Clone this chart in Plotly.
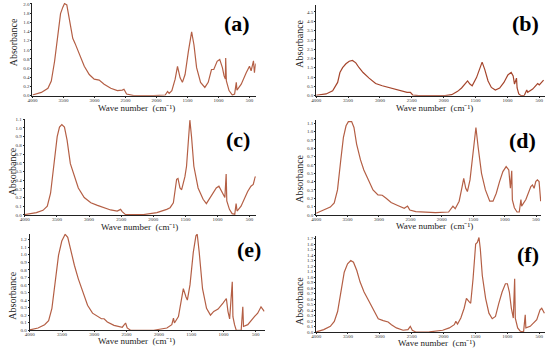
import plotly.graph_objects as go

# ---------------- data ----------------
wn_a = [4000, 3856, 3750, 3696, 3643, 3590, 3547, 3510, 3483, 3446, 3403, 3350, 3313, 3244, 3164, 3084, 3004, 2924, 2844, 2737, 2631, 2551, 2524, 2482, 2365, 2045, 1859, 1821, 1795, 1752, 1699, 1661, 1619, 1582, 1539, 1486, 1433, 1396, 1353, 1289, 1220, 1166, 1113, 1076, 1022, 980, 937, 910, 889, 884, 873, 830, 777, 740, 713, 702, 633, 553, 500, 474, 436, 420, 400]
ab_a = [0.014, 0.07, 0.16, 0.32, 0.75, 1.32, 1.79, 1.93, 2.01, 1.98, 1.68, 1.25, 1.14, 0.89, 0.64, 0.46, 0.36, 0.34, 0.25, 0.16, 0.11, 0.12, 0.14, 0.036, 0.0, 0.0, 0.014, 0.09, 0.05, 0.11, 0.36, 0.64, 0.39, 0.29, 0.46, 0.96, 1.39, 1.11, 0.61, 0.29, 0.18, 0.29, 0.57, 0.57, 0.75, 0.79, 0.61, 0.43, 0.36, 0.82, 0.32, 0.11, 0.014, 0.036, 0.29, 0.12, 0.25, 0.5, 0.64, 0.54, 0.76, 0.5, 0.7]

wn_b = [4000, 3844, 3741, 3663, 3627, 3585, 3533, 3481, 3430, 3378, 3326, 3264, 3170, 3067, 2963, 2833, 2704, 2574, 2522, 2486, 2393, 1978, 1874, 1781, 1719, 1667, 1625, 1589, 1553, 1485, 1433, 1397, 1356, 1304, 1252, 1190, 1122, 1055, 993, 941, 910, 889, 858, 848, 822, 786, 734, 697, 682, 604, 526, 500, 433]
ab_b = [0.02, 0.09, 0.26, 0.71, 1.24, 1.5, 1.71, 1.85, 1.89, 1.76, 1.5, 1.24, 0.94, 0.65, 0.53, 0.41, 0.3, 0.18, 0.18, 0.035, 0.0, 0.0, 0.05, 0.23, 0.41, 0.65, 0.79, 0.62, 0.53, 0.97, 1.5, 1.8, 1.41, 0.79, 0.44, 0.3, 0.41, 0.71, 1.11, 1.25, 1.06, 0.62, 0.94, 0.41, 0.09, 0.0, 0.02, 0.3, 0.18, 0.35, 0.65, 0.58, 0.83]

wn_c = [4000, 3820, 3717, 3650, 3599, 3548, 3496, 3460, 3424, 3383, 3342, 3291, 3229, 3167, 3075, 2972, 2869, 2766, 2664, 2561, 2509, 2484, 2432, 2150, 1944, 1790, 1738, 1687, 1636, 1615, 1584, 1558, 1507, 1482, 1451, 1430, 1404, 1368, 1302, 1224, 1173, 1096, 1060, 1019, 978, 926, 885, 865, 855, 814, 772, 731, 710, 695, 633, 530, 479, 443, 412, 400]
ab_c = [0.004, 0.027, 0.053, 0.10, 0.25, 0.56, 0.90, 1.01, 1.04, 1.01, 0.86, 0.59, 0.44, 0.31, 0.20, 0.14, 0.11, 0.083, 0.057, 0.045, 0.064, 0.038, 0.004, 0.004, 0.027, 0.064, 0.083, 0.14, 0.41, 0.42, 0.31, 0.29, 0.44, 0.56, 0.90, 1.09, 0.90, 0.56, 0.31, 0.18, 0.13, 0.22, 0.25, 0.31, 0.33, 0.26, 0.20, 0.47, 0.16, 0.064, 0.015, 0.008, 0.13, 0.045, 0.10, 0.27, 0.33, 0.35, 0.44, 0.43]

wn_d = [4000, 3880, 3775, 3712, 3660, 3608, 3566, 3524, 3487, 3435, 3398, 3356, 3294, 3241, 3173, 3095, 3016, 2948, 2886, 2807, 2702, 2598, 2545, 2509, 2415, 2101, 1892, 1839, 1823, 1787, 1724, 1682, 1651, 1619, 1593, 1551, 1499, 1457, 1421, 1368, 1306, 1237, 1185, 1133, 1081, 1028, 976, 934, 908, 887, 877, 845, 803, 767, 741, 730, 662, 583, 557, 531, 505, 479, 452, 426]
ab_d = [0.02, 0.055, 0.094, 0.145, 0.30, 0.66, 0.93, 1.07, 1.12, 1.12, 1.05, 0.85, 0.66, 0.54, 0.42, 0.30, 0.24, 0.236, 0.20, 0.15, 0.114, 0.079, 0.106, 0.059, 0.04, 0.028, 0.035, 0.086, 0.106, 0.075, 0.165, 0.32, 0.44, 0.32, 0.28, 0.42, 0.77, 1.05, 0.81, 0.50, 0.30, 0.165, 0.165, 0.26, 0.40, 0.52, 0.58, 0.54, 0.32, 0.53, 0.18, 0.086, 0.035, 0.035, 0.185, 0.106, 0.185, 0.34, 0.36, 0.32, 0.40, 0.42, 0.40, 0.165]

wn_e = [4000, 3872, 3770, 3708, 3657, 3606, 3555, 3504, 3452, 3412, 3360, 3309, 3248, 3181, 3105, 3028, 2951, 2890, 2849, 2798, 2695, 2567, 2516, 2491, 2439, 2081, 1876, 1800, 1774, 1759, 1697, 1646, 1621, 1580, 1559, 1518, 1467, 1426, 1406, 1375, 1324, 1262, 1201, 1150, 1083, 1007, 955, 930, 904, 863, 853, 828, 802, 725, 700, 689, 623, 520, 469, 418, 392, 367]
ab_e = [0.004, 0.03, 0.074, 0.126, 0.29, 0.64, 0.99, 1.18, 1.27, 1.23, 1.03, 0.86, 0.68, 0.51, 0.33, 0.226, 0.183, 0.152, 0.152, 0.11, 0.065, 0.04, 0.096, 0.03, 0.0, 0.0, 0.03, 0.074, 0.16, 0.096, 0.18, 0.42, 0.55, 0.44, 0.40, 0.6, 1.03, 1.25, 1.27, 1.03, 0.55, 0.29, 0.2, 0.25, 0.28, 0.36, 0.42, 0.25, 0.15, 0.64, 0.18, 0.074, 0.0, 0.0, 0.31, 0.05, 0.074, 0.18, 0.226, 0.31, 0.27, 0.25]

wn_f = [4000, 3881, 3777, 3715, 3663, 3611, 3559, 3507, 3456, 3414, 3362, 3310, 3248, 3181, 3103, 3025, 2947, 2870, 2818, 2740, 2636, 2559, 2522, 2491, 2429, 2222, 2014, 1910, 1832, 1807, 1781, 1729, 1677, 1641, 1600, 1574, 1537, 1496, 1470, 1444, 1423, 1392, 1340, 1288, 1236, 1185, 1133, 1081, 1029, 998, 967, 936, 905, 884, 874, 837, 796, 744, 718, 708, 640, 537, 485, 459, 417]
ab_f = [0.006, 0.048, 0.107, 0.197, 0.376, 0.73, 1.09, 1.24, 1.30, 1.27, 1.12, 0.91, 0.73, 0.585, 0.41, 0.245, 0.21, 0.185, 0.137, 0.078, 0.036, 0.048, 0.107, 0.036, 0.0, 0.006, 0.036, 0.078, 0.137, 0.197, 0.15, 0.257, 0.435, 0.615, 0.555, 0.525, 0.97, 1.6, 1.63, 1.72, 1.51, 1.03, 0.615, 0.346, 0.245, 0.286, 0.525, 0.73, 0.88, 0.88, 0.73, 0.435, 0.257, 0.97, 0.257, 0.078, 0.018, 0.006, 0.316, 0.078, 0.107, 0.227, 0.405, 0.435, 0.346]

x_ticks = [4000, 3500, 3000, 2500, 2000, 1500, 1000, 500]
labels = ["(a)", "(b)", "(c)", "(d)", "(e)", "(f)"]
x_title = "Wave number  (cm\u207b\u00b9)"
y_title = "Absorbance"
line_colors = ["#b45f45", "#a5452c", "#b45f45", "#b45f45", "#b45f45", "#b45f45"]

# ---------------- layout (pixel geometry) ----------------
W, H = 550, 351
SERIF = "Liberation Serif, Times New Roman, serif"

panels = [
    dict(x=wn_a, y=ab_a, xl=27.7, xr=253, yb=95, yt=0.6, xend=400, ytop=2.03, dt=0.2,
         lab=(234, 22), xt=(133, 107.5), yt_=(8, 41)),
    dict(x=wn_b, y=ab_b, xl=314, xr=545, yb=95, yt=3, xend=410, ytop=4.87, dt=0.5,
         lab=(525, 22), xt=(433, 107.5), yt_=(297, 42)),
    dict(x=wn_c, y=ab_c, xl=20, xr=253, yb=216, yt=119, xend=405, ytop=1.10, dt=0.1,
         lab=(235, 139), xt=(136, 228), yt_=(8, 172)),
    dict(x=wn_d, y=ab_d, xl=314, xr=541, yb=216, yt=120, xend=420, ytop=1.136, dt=0.1,
         lab=(522, 140), xt=(433, 227.5), yt_=(297, 179)),
    dict(x=wn_e, y=ab_e, xl=25, xr=262, yb=333, yt=235, xend=362, ytop=1.278, dt=0.1,
         lab=(246, 251), xt=(133, 344), yt_=(8, 298)),
    dict(x=wn_f, y=ab_f, xl=314, xr=545, yb=335, yt=237, xend=407, ytop=1.753, dt=0.1,
         lab=(528, 256), xt=(435, 346), yt_=(297, 303)),
]

fig = go.Figure()
annotations = []

for i, p in enumerate(panels):
    n = "" if i == 0 else str(i + 1)
    fig.add_trace(go.Scatter(x=p["x"], y=p["y"], mode="lines",
                             line=dict(color=line_colors[i], width=1.2),
                             xaxis="x" + n, yaxis="y" + n,
                             showlegend=False, hoverinfo="skip"))
    nt = int(round(p["ytop"] // p["dt"])) + 1
    yvals = [round(k * p["dt"], 2) for k in range(nt)]
    fig.layout["xaxis" + n] = dict(
        domain=[p["xl"] / W, p["xr"] / W], range=[4000, p["xend"]],
        anchor="y" + n, tickvals=x_ticks, ticktext=[str(v) for v in x_ticks],
        showline=True, linecolor="#222", linewidth=1.3, ticks="outside",
        ticklen=1, tickcolor="#222", showgrid=False, zeroline=False,
        ticklabelstandoff=-2,
        tickfont=dict(family=SERIF, size=5, color="#333"), fixedrange=True)
    fig.layout["yaxis" + n] = dict(
        domain=[1 - p["yb"] / H, 1 - p["yt"] / H], range=[0, p["ytop"]],
        anchor="x" + n, tickvals=yvals, ticktext=[f"{v:.1f}" for v in yvals],
        showline=True, linecolor="#222", linewidth=1, ticks="outside",
        ticklen=1, tickcolor="#222", showgrid=False, zeroline=False,
        tickfont=dict(family=SERIF, size=5, color="#333"), fixedrange=True)
    annotations.append(dict(text="<b>" + labels[i] + "</b>", x=p["lab"][0] / W,
                            y=1 - p["lab"][1] / H, xref="paper", yref="paper",
                            showarrow=False, xanchor="center", yanchor="middle",
                            font=dict(family=SERIF, size=22, color="#000")))
    annotations.append(dict(text=x_title, x=p["xt"][0] / W, y=1 - p["xt"][1] / H,
                            xref="paper", yref="paper", showarrow=False,
                            xanchor="center", yanchor="middle",
                            font=dict(family=SERIF, size=9, color="#222")))
    annotations.append(dict(text=y_title, x=p["yt_"][0] / W, y=1 - p["yt_"][1] / H,
                            xref="paper", yref="paper", showarrow=False, textangle=-90,
                            xanchor="center", yanchor="middle",
                            font=dict(family=SERIF, size=10, color="#222")))

fig.update_layout(width=W, height=H, margin=dict(l=0, r=0, t=0, b=0),
                  paper_bgcolor="white", plot_bgcolor="white",
                  annotations=annotations)

fig.write_html("out.html", config={"displayModeBar": False},
               post_script="document.body.style.margin='0';document.body.style.overflow='hidden';")
